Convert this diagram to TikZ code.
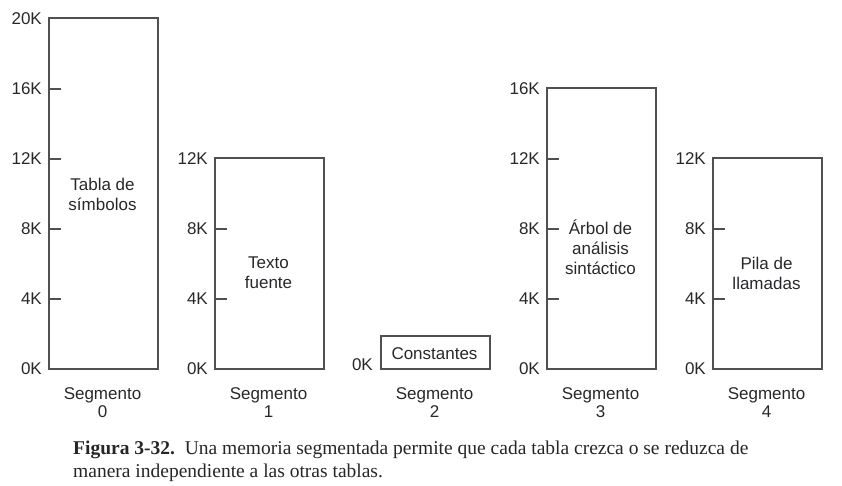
\documentclass[tikz,border=0pt]{standalone}
\usepackage{fontspec}
\setmainfont{Liberation Serif}
\newfontfamily\labfont{Liberation Sans}
\definecolor{linegray}{RGB}{80,80,82}
\definecolor{textgray}{RGB}{40,40,43}
\tikzset{
  segbox/.style={draw=linegray, line width=1.6pt, fill=none, inner sep=0pt, anchor=south west},
  tick/.style={draw=linegray, line width=1.6pt},
  klabel/.style={text=textgray, font=\labfont\fontsize{17}{19}\selectfont, inner sep=0pt, anchor=east},
  intext/.style={text=textgray, font=\labfont\fontsize{17}{20}\selectfont, align=center, inner sep=0pt},
  seglabel/.style={text=textgray, font=\labfont\fontsize{17}{18.5}\selectfont, align=center, inner sep=0pt, anchor=north},
  caption/.style={text=black!85, font=\fontsize{19.5}{23}\selectfont, align=left, inner sep=0pt, anchor=north west}
}
\begin{document}
\begin{tikzpicture}[x=1pt,y=-1pt]
\useasboundingbox (0,0) rectangle (842,486);
% boxes
\node[segbox, minimum width=109pt, minimum height=351pt] (s0) at (48,370) {};
\node[segbox, minimum width=109pt, minimum height=211pt] (s1) at (214,370) {};
\node[segbox, minimum width=109pt, minimum height=33pt] (s2) at (380,370) {};
\node[segbox, minimum width=109pt, minimum height=281pt] (s3) at (546,370) {};
\node[segbox, minimum width=109pt, minimum height=211pt] (s4) at (712,370) {};
% ticks
\foreach \yy in {89,159,229,299} \draw[tick] (s0.south west |- 0,\yy) -- ++(13,0);
\foreach \yy in {229,299} \draw[tick] (s1.south west |- 0,\yy) -- ++(13,0);
\foreach \yy in {159,229,299} \draw[tick] (s3.south west |- 0,\yy) -- ++(13,0);
\foreach \yy in {229,299} \draw[tick] (s4.south west |- 0,\yy) -- ++(13,0);
% K labels segment 0
\node[klabel] (k00) at (42,19) {20K};
\node[klabel] (k01) at (42,89) {16K};
\node[klabel] (k02) at (42,159) {12K};
\node[klabel] (k03) at (42,229) {8K};
\node[klabel] (k04) at (42,299) {4K};
\node[klabel] (k05) at (42,369) {0K};
% segment 1
\node[klabel] (k10) at (208,159) {12K};
\node[klabel] (k11) at (208,229) {8K};
\node[klabel] (k12) at (208,299) {4K};
\node[klabel] (k13) at (208,369) {0K};
% segment 2
\node[klabel] (k20) at (373,365) {0K};
% segment 3
\node[klabel] (k30) at (540,89) {16K};
\node[klabel] (k31) at (540,159) {12K};
\node[klabel] (k32) at (540,229) {8K};
\node[klabel] (k33) at (540,299) {4K};
\node[klabel] (k34) at (540,369) {0K};
% segment 4
\node[klabel] (k40) at (706,159) {12K};
\node[klabel] (k41) at (706,229) {8K};
\node[klabel] (k42) at (706,299) {4K};
\node[klabel] (k43) at (706,369) {0K};
% inner texts
\node[intext] (t0) at (102.5,194) {Tabla de\\símbolos};
\node[intext] (t1) at (268.5,273) {Texto\\fuente};
\node[intext] (t2) at (434.5,353.5) {Constantes};
\node[intext] (t3) at (600.5,247) {Árbol de\\análisis\\sintáctico};
\node[intext] (t4) at (766.5,273) {Pila de\\llamadas};
% segment labels
\node[seglabel] (g0) at (102.5,387) {Segmento\\0};
\node[seglabel] (g1) at (268.5,387) {Segmento\\1};
\node[seglabel] (g2) at (434.5,387) {Segmento\\2};
\node[seglabel] (g3) at (600.5,387) {Segmento\\3};
\node[seglabel] (g4) at (766.5,387) {Segmento\\4};
% caption
\node[caption] (cap) at (73,441) {\textbf{Figura 3-32.}\ \ Una memoria segmentada permite que cada tabla crezca o se reduzca de\\manera independiente a las otras tablas.};
\end{tikzpicture}
\end{document}
